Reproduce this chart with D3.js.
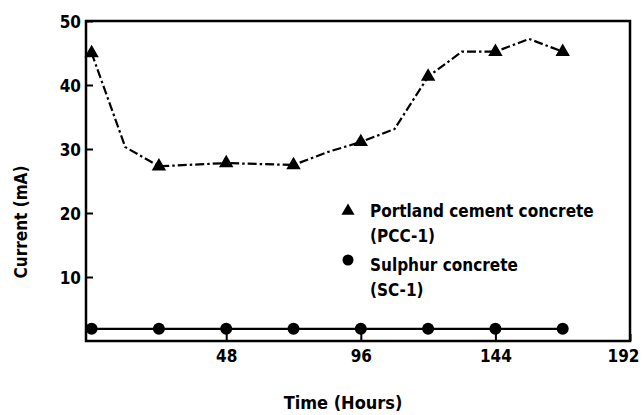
<!DOCTYPE html>
<html>
<head>
<meta charset="utf-8">
<script src="https://cdn.jsdelivr.net/npm/d3@7"></script>
<style>
  body { margin: 0; background: #fff; }
  svg text { font-family: "DejaVu Sans Condensed", "DejaVu Sans", sans-serif; font-weight: bold; fill: #000; }
</style>
</head>
<body>
<div id="chart"></div>
<script>
/* Data */
const pccHours   = [0, 12, 24, 48, 72, 84, 96, 108, 120, 132, 144, 156, 168];
const pccCurrent = [45, 30.3, 27.3, 27.8, 27.5, 29.5, 31.1, 33.1, 41.3, 45.2, 45.2, 47.2, 45.2];
const pccMarked  = [true, false, true, true, true, false, true, false, true, false, true, false, true];

const scHours   = [0, 24, 48, 72, 96, 120, 144, 168];
const scCurrent = [1.9, 1.9, 1.9, 1.9, 1.9, 1.9, 1.9, 1.9];

const xTicks = [48, 96, 144, 192];
const yTicks = [10, 20, 30, 40, 50];

const legendLabels = [["Portland cement concrete", "(PCC-1)"], ["Sulphur concrete", "(SC-1)"]];

/* Layout */
const W = 643, H = 415;
const plot = {left: 86, right: 630, top: 21, bottom: 341};

const x = d3.scaleLinear().domain([-2, 192]).range([plot.left, plot.right]);
const y = d3.scaleLinear().domain([0, 50]).range([plot.bottom, plot.top]);

const svg = d3.select("#chart").append("svg")
    .attr("width", W)
    .attr("height", H);

/* Axes with inward ticks */
const yAxis = svg.append("g")
    .attr("transform", "translate(" + plot.left + ",0)")
    .call(d3.axisLeft(y).tickValues(yTicks).tickSizeInner(-7).tickSizeOuter(0).tickPadding(5));

const xAxis = svg.append("g")
    .attr("transform", "translate(0," + plot.bottom + ")")
    .call(d3.axisBottom(x).tickValues(xTicks).tickSizeInner(-7).tickSizeOuter(0).tickPadding(9));

[xAxis, yAxis].forEach(function(g){
    g.select(".domain").remove();
    g.selectAll(".tick line").attr("stroke", "#000").attr("stroke-width", 2);
    g.selectAll(".tick text").style("font-size", "17px");
});
yAxis.selectAll(".tick text").attr("dy", "0.36em");
// last x label sits just inside the right edge, as in the figure
xAxis.selectAll(".tick text").filter(function(d){ return d === 192; }).attr("dx", -7);

/* Frame */
svg.append("rect")
    .attr("x", plot.left)
    .attr("y", plot.top)
    .attr("width", plot.right - plot.left)
    .attr("height", plot.bottom - plot.top)
    .attr("fill", "none")
    .attr("stroke", "#000")
    .attr("stroke-width", 2.5);

/* Lines */
const pccData = pccHours.map(function(h, i){ return {h: h, v: pccCurrent[i], m: pccMarked[i]}; });
const scData = scHours.map(function(h, i){ return {h: h, v: scCurrent[i]}; });

const line = d3.line()
    .x(function(d){ return x(d.h); })
    .y(function(d){ return y(d.v); });

svg.append("path")
    .datum(pccData)
    .attr("d", line)
    .attr("fill", "none")
    .attr("stroke", "#000")
    .attr("stroke-width", 2.2)
    .attr("stroke-dasharray", "9,3,2.5,3");

svg.append("path")
    .datum(scData)
    .attr("d", line)
    .attr("fill", "none")
    .attr("stroke", "#000")
    .attr("stroke-width", 2.2);

/* Markers */
const tri = d3.symbol().type(d3.symbolTriangle).size(90);

svg.selectAll(".tri")
    .data(pccData.filter(function(d){ return d.m; }))
    .enter().append("path")
    .attr("class", "tri")
    .attr("d", tri)
    .attr("transform", function(d){ return "translate(" + x(d.h) + "," + y(d.v) + ")"; })
    .attr("fill", "#000");

svg.selectAll(".dot")
    .data(scData)
    .enter().append("circle")
    .attr("class", "dot")
    .attr("cx", function(d){ return x(d.h); })
    .attr("cy", function(d){ return y(d.v); })
    .attr("r", 6)
    .attr("fill", "#000");

/* Legend */
const legend = svg.append("g").attr("transform", "translate(348,0)");

legend.append("path")
    .attr("d", d3.symbol().type(d3.symbolTriangle).size(75))
    .attr("transform", "translate(0,211)");
legend.append("circle")
    .attr("cx", 0).attr("cy", 260).attr("r", 5.5);

legendLabels.forEach(function(lines, i){
    const t = legend.append("text")
        .attr("x", 22)
        .attr("y", 217 + i * 54)
        .style("font-size", "17px");
    lines.forEach(function(s, j){
        t.append("tspan").attr("x", 22).attr("dy", j === 0 ? 0 : 25).text(s);
    });
});

/* Axis titles */
svg.append("text")
    .attr("x", 343)
    .attr("y", 409)
    .attr("text-anchor", "middle")
    .style("font-size", "18px")
    .text("Time (Hours)");

svg.append("text")
    .attr("transform", "translate(27,222) rotate(-90)")
    .attr("text-anchor", "middle")
    .style("font-size", "17px")
    .text("Current (mA)");
</script>
</body>
</html>
